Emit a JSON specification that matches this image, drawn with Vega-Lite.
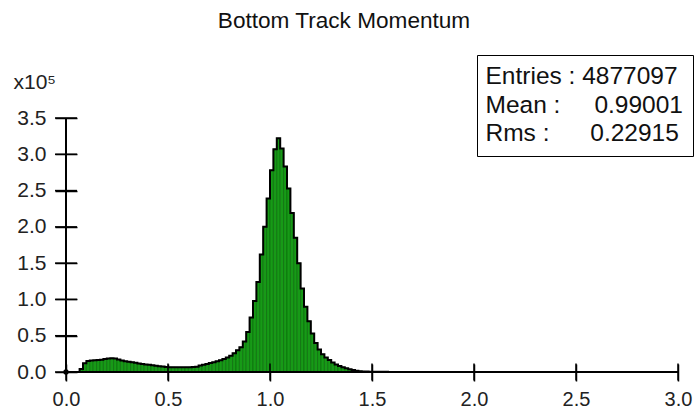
{
  "$schema": "https://vega.github.io/schema/vega-lite/v6.json",
  "width": 612,
  "height": 254,
  "autosize": {"type": "none"},
  "padding": {"left": 66, "top": 118, "right": 18, "bottom": 45},
  "background": "white",
  "title": {
    "text": "Bottom Track Momentum",
    "font": "Liberation Sans",
    "fontSize": 22.6,
    "fontWeight": "normal",
    "color": "#111111",
    "anchor": "middle",
    "dx": -28,
    "offset": 22
  },
  "config": {
    "view": {"stroke": null},
    "font": "Liberation Sans",
    "axis": {
      "domain": false,
      "grid": false,
      "ticks": true,
      "tickColor": "#000000",
      "tickWidth": 1.5,
      "labelOverlap": false,
      "labelFont": "Liberation Sans",
      "labelColor": "#222222"
    }
  },
  "resolve": {"axis": {"x": "independent", "y": "independent"}},
  "datasets": {
    "bins": [
      {"lo": 0.0, "hi": 0.01667, "entries": 0},
      {"lo": 0.01667, "hi": 0.03333, "entries": 0},
      {"lo": 0.03333, "hi": 0.05, "entries": 0},
      {"lo": 0.05, "hi": 0.06667, "entries": 0},
      {"lo": 0.06667, "hi": 0.08333, "entries": 4000},
      {"lo": 0.08333, "hi": 0.1, "entries": 12000},
      {"lo": 0.1, "hi": 0.11667, "entries": 15000},
      {"lo": 0.11667, "hi": 0.13333, "entries": 15800},
      {"lo": 0.13333, "hi": 0.15, "entries": 16200},
      {"lo": 0.15, "hi": 0.16667, "entries": 16500},
      {"lo": 0.16667, "hi": 0.18333, "entries": 17000},
      {"lo": 0.18333, "hi": 0.2, "entries": 17800},
      {"lo": 0.2, "hi": 0.21667, "entries": 18600},
      {"lo": 0.21667, "hi": 0.23333, "entries": 19000},
      {"lo": 0.23333, "hi": 0.25, "entries": 18600},
      {"lo": 0.25, "hi": 0.26667, "entries": 17200},
      {"lo": 0.26667, "hi": 0.28333, "entries": 15800},
      {"lo": 0.28333, "hi": 0.3, "entries": 14800},
      {"lo": 0.3, "hi": 0.31667, "entries": 14200},
      {"lo": 0.31667, "hi": 0.33333, "entries": 13600},
      {"lo": 0.33333, "hi": 0.35, "entries": 12600},
      {"lo": 0.35, "hi": 0.36667, "entries": 11600},
      {"lo": 0.36667, "hi": 0.38333, "entries": 11000},
      {"lo": 0.38333, "hi": 0.4, "entries": 10400},
      {"lo": 0.4, "hi": 0.41667, "entries": 9900},
      {"lo": 0.41667, "hi": 0.43333, "entries": 9200},
      {"lo": 0.43333, "hi": 0.45, "entries": 8600},
      {"lo": 0.45, "hi": 0.46667, "entries": 8000},
      {"lo": 0.46667, "hi": 0.48333, "entries": 7500},
      {"lo": 0.48333, "hi": 0.5, "entries": 7000},
      {"lo": 0.5, "hi": 0.51667, "entries": 6700},
      {"lo": 0.51667, "hi": 0.53333, "entries": 6600},
      {"lo": 0.53333, "hi": 0.55, "entries": 6500},
      {"lo": 0.55, "hi": 0.56667, "entries": 6400},
      {"lo": 0.56667, "hi": 0.58333, "entries": 6400},
      {"lo": 0.58333, "hi": 0.6, "entries": 6500},
      {"lo": 0.6, "hi": 0.61667, "entries": 6600},
      {"lo": 0.61667, "hi": 0.63333, "entries": 6800},
      {"lo": 0.63333, "hi": 0.65, "entries": 7400},
      {"lo": 0.65, "hi": 0.66667, "entries": 9000},
      {"lo": 0.66667, "hi": 0.68333, "entries": 10000},
      {"lo": 0.68333, "hi": 0.7, "entries": 11000},
      {"lo": 0.7, "hi": 0.71667, "entries": 12500},
      {"lo": 0.71667, "hi": 0.73333, "entries": 13500},
      {"lo": 0.73333, "hi": 0.75, "entries": 14800},
      {"lo": 0.75, "hi": 0.76667, "entries": 16200},
      {"lo": 0.76667, "hi": 0.78333, "entries": 18000},
      {"lo": 0.78333, "hi": 0.8, "entries": 20000},
      {"lo": 0.8, "hi": 0.81667, "entries": 22500},
      {"lo": 0.81667, "hi": 0.83333, "entries": 26000},
      {"lo": 0.83333, "hi": 0.85, "entries": 30000},
      {"lo": 0.85, "hi": 0.86667, "entries": 34000},
      {"lo": 0.86667, "hi": 0.88333, "entries": 42000},
      {"lo": 0.88333, "hi": 0.9, "entries": 55000},
      {"lo": 0.9, "hi": 0.91667, "entries": 75000},
      {"lo": 0.91667, "hi": 0.93333, "entries": 98000},
      {"lo": 0.93333, "hi": 0.95, "entries": 124000},
      {"lo": 0.95, "hi": 0.96667, "entries": 162000},
      {"lo": 0.96667, "hi": 0.98333, "entries": 200000},
      {"lo": 0.98333, "hi": 1.0, "entries": 239000},
      {"lo": 1.0, "hi": 1.01667, "entries": 278000},
      {"lo": 1.01667, "hi": 1.03333, "entries": 307000},
      {"lo": 1.03333, "hi": 1.05, "entries": 322000},
      {"lo": 1.05, "hi": 1.06667, "entries": 308000},
      {"lo": 1.06667, "hi": 1.08333, "entries": 283000},
      {"lo": 1.08333, "hi": 1.1, "entries": 253000},
      {"lo": 1.1, "hi": 1.11667, "entries": 219000},
      {"lo": 1.11667, "hi": 1.13333, "entries": 185000},
      {"lo": 1.13333, "hi": 1.15, "entries": 150000},
      {"lo": 1.15, "hi": 1.16667, "entries": 115000},
      {"lo": 1.16667, "hi": 1.18333, "entries": 90000},
      {"lo": 1.18333, "hi": 1.2, "entries": 70000},
      {"lo": 1.2, "hi": 1.21667, "entries": 53000},
      {"lo": 1.21667, "hi": 1.23333, "entries": 40000},
      {"lo": 1.23333, "hi": 1.25, "entries": 31000},
      {"lo": 1.25, "hi": 1.26667, "entries": 24500},
      {"lo": 1.26667, "hi": 1.28333, "entries": 20000},
      {"lo": 1.28333, "hi": 1.3, "entries": 16500},
      {"lo": 1.3, "hi": 1.31667, "entries": 13000},
      {"lo": 1.31667, "hi": 1.33333, "entries": 10200},
      {"lo": 1.33333, "hi": 1.35, "entries": 8300},
      {"lo": 1.35, "hi": 1.36667, "entries": 6500},
      {"lo": 1.36667, "hi": 1.38333, "entries": 5000},
      {"lo": 1.38333, "hi": 1.4, "entries": 3700},
      {"lo": 1.4, "hi": 1.41667, "entries": 2700},
      {"lo": 1.41667, "hi": 1.43333, "entries": 1800},
      {"lo": 1.43333, "hi": 1.45, "entries": 1200},
      {"lo": 1.45, "hi": 1.46667, "entries": 800},
      {"lo": 1.46667, "hi": 1.48333, "entries": 600},
      {"lo": 1.48333, "hi": 1.5, "entries": 500},
      {"lo": 1.5, "hi": 1.51667, "entries": 400},
      {"lo": 1.51667, "hi": 1.53333, "entries": 400},
      {"lo": 1.53333, "hi": 1.55, "entries": 300},
      {"lo": 1.55, "hi": 1.56667, "entries": 300},
      {"lo": 1.56667, "hi": 1.58333, "entries": 200},
      {"lo": 1.58333, "hi": 1.6, "entries": 200}
    ],
    "xticks": [
      {"t": 0}, {"t": 0.5}, {"t": 1}, {"t": 1.5}, {"t": 2}, {"t": 2.5}, {"t": 3}
    ],
    "yticks": [
      {"t": 0}, {"t": 50000}, {"t": 100000}, {"t": 150000},
      {"t": 200000}, {"t": 250000}, {"t": 300000}, {"t": 350000}
    ],
    "stats": [
      {"line": "Entries : 4877097"},
      {"line": "Mean :\u00a0\u00a0\u00a0\u00a0 0.99001"},
      {"line": "Rms :\u00a0\u00a0\u00a0\u00a0\u00a0 0.22915"}
    ]
  },
  "layer": [
    {
      "data": {"name": "bins"},
      "mark": {"type": "rect", "fill": "#179a17", "stroke": "#0b6a0b", "strokeWidth": 0.7},
      "encoding": {
        "x": {
          "field": "lo",
          "type": "quantitative",
          "scale": {"domain": [0, 3], "nice": false, "zero": false},
          "axis": {
            "values": [0, 0.5, 1, 1.5, 2, 2.5, 3],
            "format": ".1f",
            "title": null,
            "domain": false,
            "grid": false,
            "ticks": true,
            "tickSize": 17,
            "offset": -8,
            "tickColor": "#000000",
            "tickWidth": 1.5,
            "labelFontSize": 20,
            "labelPadding": 8,
            "labelOverlap": false,
            "labelFlush": false,
            "labelBound": false
          }
        },
        "x2": {"field": "hi"},
        "y": {
          "field": "entries",
          "type": "quantitative",
          "scale": {"domain": [0, 350000], "nice": false},
          "axis": {
            "values": [0, 50000, 100000, 150000, 200000, 250000, 300000, 350000],
            "labelExpr": "format(datum.value / 100000, '.1f')",
            "domain": false,
            "grid": false,
            "ticks": true,
            "tickSize": 22,
            "offset": -11,
            "tickColor": "#000000",
            "tickWidth": 1.5,
            "labelFontSize": 21,
            "labelPadding": 9,
            "labelOverlap": false,
            "title": "x10⁵",
            "titleFont": "Liberation Sans",
            "titleFontSize": 21,
            "titleFontWeight": "normal",
            "titleColor": "#222222",
            "titleAngle": 0,
            "titleAlign": "left",
            "titleBaseline": "alphabetic",
            "titleX": -64,
            "titleY": -30
          }
        },
        "y2": {"datum": 0}
      }
    },
    {
      "data": {"name": "bins"},
      "mark": {"type": "line", "interpolate": "step-after", "color": "black", "strokeWidth": 2},
      "encoding": {
        "x": {"field": "lo", "type": "quantitative", "axis": null},
        "y": {"field": "entries", "type": "quantitative", "axis": null}
      }
    },
    {
      "data": {"values": [{}]},
      "mark": {"type": "rule", "color": "black", "strokeWidth": 2},
      "encoding": {"x": {"datum": 0, "axis": null}}
    },
    {
      "data": {"values": [{}]},
      "mark": {"type": "rule", "color": "black", "strokeWidth": 2},
      "encoding": {"y": {"datum": 0, "axis": null}}
    },
    {
      "data": {"name": "xticks"},
      "mark": {"type": "tick", "orient": "vertical", "size": 17, "thickness": 1.5, "color": "black", "opacity": 1},
      "encoding": {
        "x": {"field": "t", "type": "quantitative", "axis": null},
        "y": {"datum": 0, "axis": null}
      }
    },
    {
      "data": {"name": "yticks"},
      "mark": {"type": "tick", "orient": "horizontal", "size": 22, "thickness": 1.5, "color": "black", "opacity": 1},
      "encoding": {
        "y": {"field": "t", "type": "quantitative", "axis": null},
        "x": {"datum": 0, "axis": null}
      }
    },
    {
      "data": {"values": [{}]},
      "mark": {"type": "point", "filled": true, "color": "black", "opacity": 1, "size": 28},
      "encoding": {
        "x": {"datum": 0, "axis": null},
        "y": {"datum": 0, "axis": null}
      }
    },
    {
      "data": {"name": "stats"},
      "mark": {"type": "point", "opacity": 0},
      "encoding": {
        "color": {
          "field": "line",
          "type": "nominal",
          "sort": null,
          "scale": {"range": ["black"]},
          "legend": {
            "title": null,
            "orient": "none",
            "legendX": 411,
            "legendY": -63,
            "strokeColor": "black",
            "fillColor": "white",
            "padding": 10,
            "symbolOpacity": 0,
            "symbolSize": 0,
            "symbolStrokeWidth": 0,
            "labelOffset": -26,
            "labelFont": "Liberation Sans",
            "labelFontSize": 24.5,
            "labelColor": "#111111",
            "labelLimit": 400,
            "rowPadding": 3.5
          }
        }
      }
    }
  ]
}
